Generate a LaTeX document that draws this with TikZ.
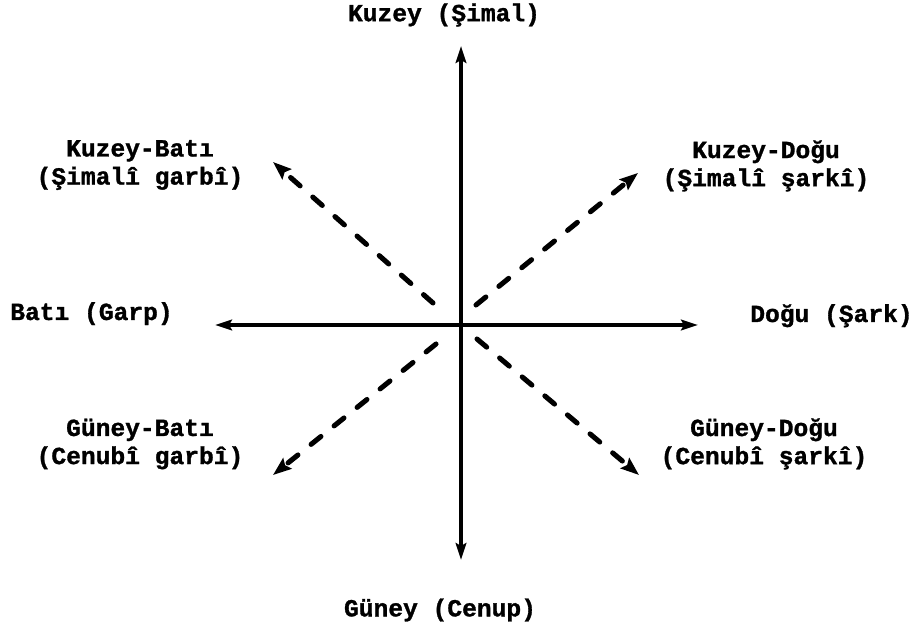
\documentclass[tikz,border=0pt]{standalone}
\usepackage{fontspec}
\setmonofont{Liberation Mono}[BoldFeatures={FakeBold=1.2}]
\usetikzlibrary{arrows.meta}

\begin{document}
\begin{tikzpicture}[
  axis/.style={line width=2.4pt,-{Stealth[length=12pt,width=7.5pt,inset=2pt]}},
  diag/.style={line width=3.6pt,line cap=round,dash pattern=on 9pt off 12pt,-{Stealth[length=13pt,width=9.5pt,inset=2pt]}},
  lbl/.style={font=\fontsize{17.5}{20}\selectfont\ttfamily\bfseries,align=center,inner sep=0pt}]
 \useasboundingbox (0,0) rectangle (22.9,15.65);
 \coordinate (O) at (11.525,7.525);
 \coordinate (N) at (11.525,14.5);
 \coordinate (S) at (11.525,1.65);
 \coordinate (W) at (5.375,7.525);
 \coordinate (E) at (17.45,7.525);
 \draw[axis] (O) -- (N);
 \draw[axis] (O) -- (S);
 \draw[axis] (O) -- (W);
 \draw[axis] (O) -- (E);
 \coordinate (nw0) at (10.825,8.075);
 \coordinate (nw1) at (6.825,11.6);
 \coordinate (ne0) at (11.9,8.025);
 \coordinate (ne1) at (15.95,11.325);
 \coordinate (sw0) at (10.9,7.05);
 \coordinate (sw1) at (6.825,3.775);
 \coordinate (se0) at (11.925,7.175);
 \coordinate (se1) at (15.975,3.775);
 \draw[diag] (nw0) -- (nw1);
 \draw[diag] (ne0) -- (ne1);
 \draw[diag] (sw0) -- (sw1);
 \draw[diag] (se0) -- (se1);
 \node[lbl] (kuzey) at (11.1,15.275) {Kuzey (Şimal)};
 \node[lbl] (guney) at (11.0,0.4) {Güney (Cenup)};
 \node[lbl,anchor=base west] (bati) at (0.25,7.65) {Batı (Garp)};
 \node[lbl,anchor=base west] (dogu) at (18.75,7.6) {Doğu (Şark)};
 \node[lbl] (kb) at (3.5,11.525) {Kuzey-Batı\\(Şimalî garbî)};
 \node[lbl] (kd) at (19.15,11.5) {Kuzey-Doğu\\(Şimalî şarkî)};
 \node[lbl] (gb) at (3.5,4.55) {Güney-Batı\\(Cenubî garbî)};
 \node[lbl] (gd) at (19.1,4.55) {Güney-Doğu\\(Cenubî şarkî)};
\end{tikzpicture}
\end{document}
